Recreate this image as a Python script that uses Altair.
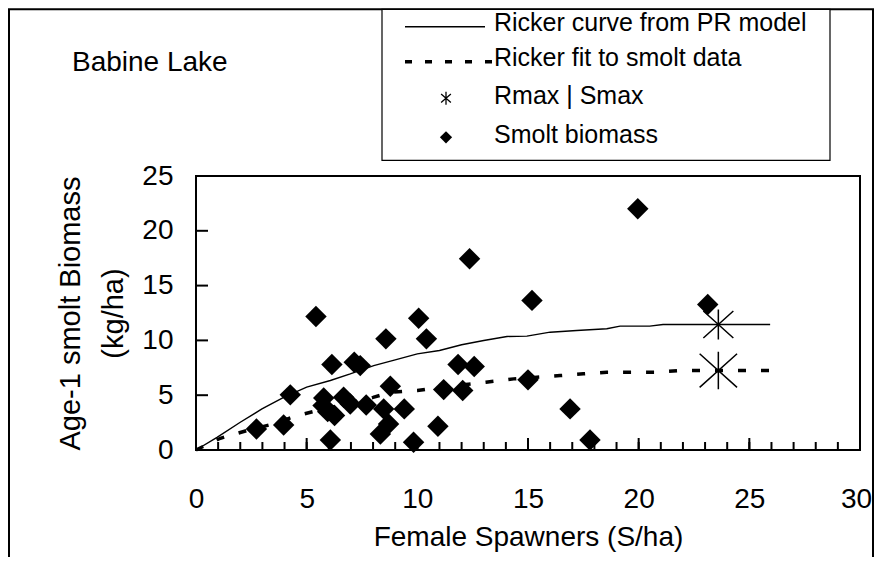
import altair as alt
import pandas as pd

# ---------------- data ----------------
SPAWNERS = [2.73, 3.96, 4.26, 5.42, 5.77, 5.74, 6.14, 6.07, 6.26, 5.95, 6.67, 6.97,
            7.15, 7.42, 7.69, 8.58, 8.48, 8.33, 8.70, 8.78, 9.41, 9.83, 10.06, 10.41,
            10.93, 11.19, 11.84, 12.05, 12.36, 12.57, 15.18, 15.0, 19.96, 23.12, 16.9, 17.8]
BIOMASS = [1.92, 2.28, 5.03, 12.18, 4.75, 4.05, 7.80, 0.91, 3.14, 3.5, 4.81, 4.2,
           8.0, 7.7, 4.11, 10.14, 3.75, 1.46, 2.38, 5.82, 3.75, 0.70, 12.03, 10.14,
           2.16, 5.51, 7.80, 5.42, 17.45, 7.61, 13.65, 6.4, 22.02, 13.28, 3.75, 0.91]

PR_S = [0, 0.95, 2.0, 2.98, 3.96, 5.0, 6.07, 6.97, 8.03, 9.0, 10.0, 11.0, 12.0, 13.0,
        14.05, 14.95, 16.0, 17.2, 18.56, 19.16, 20.5, 21.1, 25.94]
PR_R = [0, 1.16, 2.53, 3.75, 4.81, 5.73, 6.34, 6.94, 7.7, 8.22, 8.77, 9.08, 9.6, 9.99,
        10.36, 10.39, 10.75, 10.9, 11.06, 11.3, 11.3, 11.45, 11.45]

FIT_S = [0, 1.1, 2.3, 3.5, 4.56, 5.8, 7.0, 8.0, 8.8, 10.0, 11.2, 12.3, 13.1, 14.35,
         15.4, 16.45, 17.5, 18.56, 19.75, 20.8, 21.9, 23.6, 25.9]
FIT_R = [0, 1.07, 1.77, 2.38, 3.14, 3.75, 4.3, 4.8, 5.27, 5.42, 5.8, 6.0, 6.18, 6.49,
         6.64, 6.79, 6.95, 7.1, 7.1, 7.1, 7.25, 7.25, 7.25]

STAR_PR = {"S": [23.6], "R": [11.45]}
STAR_FIT = {"S": [23.6], "R": [7.25]}

LEGEND_LABELS = ["Ricker curve from PR model", "Ricker fit to smolt data",
                 "Rmax | Smax", "Smolt biomass"]
PANEL_TITLE = "Babine Lake"
X_TITLE = "Female Spawners (S/ha)"
Y_TITLE = ["Age-1 smolt Biomass", "(kg/ha)"]
X_TICKS = [0, 5, 10, 15, 20, 25, 30]
Y_TICKS = [0, 5, 10, 15, 20, 25]
X_MINOR = list(range(1, 30))

# ---------------- layout ----------------
FONT = "Liberation Sans"
W, H = 664, 274
OX, OY = 196, 175.7          # page position of plot origin


def px(x):
    return x - OX


def py(y):
    return y - OY


xs = alt.Scale(domain=[0, 30], nice=False, zero=True)
ys = alt.Scale(domain=[0, 25], nice=False, zero=True)

x_axis = alt.Axis(values=X_TICKS, title=X_TITLE, grid=False, ticks=False, domain=False,
                  labelFont=FONT, labelFontSize=28, labelColor="black", labelPadding=35,
                  labelFlush=False, labelOverlap=False,
                  labelOffset={"condition": {"test": "datum.value == 30", "value": -4}, "value": 0},
                  titleFont=FONT, titleFontSize=28, titleFontWeight="normal",
                  titleColor="black", titleX=W / 2, titleY=95.5,
                  titleBaseline="alphabetic", titleAlign="center")
y_axis = alt.Axis(values=Y_TICKS, title=Y_TITLE, grid=False, ticks=False, domain=False,
                  labelFont=FONT, labelFontSize=28, labelColor="black", labelPadding=23,
                  labelFlush=False, labelOverlap=False,
                  titleFont=FONT, titleFontSize=29, titleFontWeight="normal",
                  titleColor="black", titleAngle=270, titleX=-117, titleY=H / 2,
                  titleBaseline="alphabetic", titleAlign="center", titleLineHeight=43)

scatter_df = pd.DataFrame({"S": SPAWNERS, "R": BIOMASS})
pr_df = pd.DataFrame({"S": PR_S, "R": PR_R, "i": list(range(len(PR_S)))})
fit_df = pd.DataFrame({"S": FIT_S, "R": FIT_R, "i": list(range(len(FIT_S)))})
one = pd.DataFrame({"k": [0]})

STAR_PATH = "M0,-1L0,1M-1,-0.9L1,0.9M-1,0.9L1,-0.9"

# outer frame & legend box
outer = alt.Chart(one).mark_rect(fillOpacity=0, stroke="black", strokeWidth=2).encode(
    x=alt.value(px(9)), x2=alt.value(px(873)), y=alt.value(py(9)), y2=alt.value(py(620)))
legend_box = alt.Chart(one).mark_rect(fill="white", stroke="black", strokeWidth=1.2).encode(
    x=alt.value(px(382)), x2=alt.value(px(830)), y=alt.value(py(9)), y2=alt.value(py(160)))

base_x = alt.X("S:Q", scale=xs, axis=x_axis)
base_y = alt.Y("R:Q", scale=ys, axis=y_axis)

pr_line = alt.Chart(pr_df).mark_line(color="black", strokeWidth=1.4).encode(
    x=base_x, y=base_y, order="i:Q")
fit_line = alt.Chart(fit_df).mark_line(color="black", strokeWidth=3.5, strokeDash=[8, 15]).encode(
    x=alt.X("S:Q", scale=xs), y=alt.Y("R:Q", scale=ys), order="i:Q")
pts = alt.Chart(scatter_df).mark_point(shape="diamond", filled=True, color="black",
                                       size=460, opacity=1).encode(
    x=alt.X("S:Q", scale=xs), y=alt.Y("R:Q", scale=ys))
star1 = alt.Chart(pd.DataFrame(STAR_PR)).mark_point(shape=STAR_PATH, filled=False, color="black",
                                                    size=900, strokeWidth=1.5, opacity=1).encode(
    x=alt.X("S:Q", scale=xs), y=alt.Y("R:Q", scale=ys))
star2 = alt.Chart(pd.DataFrame(STAR_FIT)).mark_point(shape=STAR_PATH, filled=False, color="black",
                                                     size=1400, strokeWidth=1.5, opacity=1).encode(
    x=alt.X("S:Q", scale=xs), y=alt.Y("R:Q", scale=ys))

# inward ticks (short tick marks inside the frame)
minor_df = pd.DataFrame({"v": X_MINOR})
major_df = pd.DataFrame({"v": X_TICKS})
yt_df = pd.DataFrame({"v": Y_TICKS[1:]})
minor_t = alt.Chart(minor_df).mark_tick(color="black", thickness=2, size=8,
                                        orient="vertical", opacity=1).encode(
    x=alt.X("v:Q", scale=xs), y=alt.value(H - 4))
major_t = alt.Chart(major_df).mark_tick(color="black", thickness=2, size=12,
                                        orient="vertical", opacity=1).encode(
    x=alt.X("v:Q", scale=xs), y=alt.value(H - 6))
y_t = alt.Chart(yt_df).mark_tick(color="black", thickness=2, size=12,
                                 orient="horizontal", opacity=1).encode(
    y=alt.Y("v:Q", scale=ys), x=alt.value(6))

# panel title
title_txt = alt.Chart(pd.DataFrame({"t": [PANEL_TITLE]})).mark_text(
    font=FONT, fontSize=28, align="left", baseline="alphabetic", color="black").encode(
    text="t:N", x=alt.value(px(72)), y=alt.value(py(71)))

# legend
LX0, LX1 = 405, 488
TX = 494
rows_base = [31, 66, 104, 143]
leg_solid = alt.Chart(one).mark_rule(color="black", strokeWidth=1.5).encode(
    x=alt.value(px(LX0)), x2=alt.value(px(LX1 - 3)), y=alt.value(py(26.5)))
leg_dash = alt.Chart(one).mark_rule(color="black", strokeWidth=3.5, strokeDash=[7, 13]).encode(
    x=alt.value(px(LX0)), x2=alt.value(px(LX1 + 5)), y=alt.value(py(61.5)))
leg_star = alt.Chart(one).mark_point(shape="M0,-1L0,1M-0.75,-0.65L0.75,0.65M-0.75,0.65L0.75,-0.65",
                                     filled=False, color="black", size=169, strokeWidth=1.3,
                                     opacity=1).encode(
    x=alt.value(px(446)), y=alt.value(py(98)))
leg_diam = alt.Chart(one).mark_point(shape="diamond", filled=True, color="black", size=150,
                                     opacity=1).encode(
    x=alt.value(px(446)), y=alt.value(py(137)))
leg_texts = [
    alt.Chart(pd.DataFrame({"t": [lab]})).mark_text(
        font=FONT, fontSize=25, align="left", baseline="alphabetic", color="black").encode(
        text="t:N", x=alt.value(px(TX)), y=alt.value(py(b)))
    for lab, b in zip(LEGEND_LABELS, rows_base)
]

chart = alt.layer(
    outer, legend_box, pr_line, fit_line, pts, star1, star2,
    minor_t, major_t, y_t, title_txt, leg_solid, leg_dash, leg_star, leg_diam, *leg_texts
).properties(
    width=W, height=H,
    autosize=alt.AutoSizeParams(type="none"),
    padding={"left": 188, "top": 168, "right": 14, "bottom": 107},
    background="white",
).configure_view(stroke="black", strokeWidth=2)

chart.save("out.html", embed_options={"renderer": "svg", "actions": False})
